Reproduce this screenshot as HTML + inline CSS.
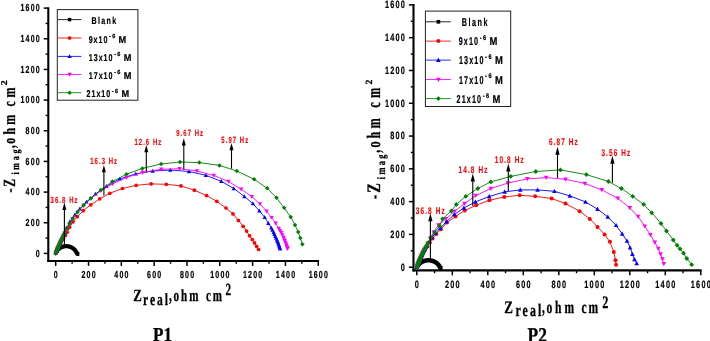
<!DOCTYPE html>
<html><head><meta charset="utf-8"><title>Nyquist plots P1 P2</title>
<style>html,body{margin:0;padding:0;background:#fff}svg{display:block;will-change:transform}</style>
</head><body>
<svg width="710" height="341" viewBox="0 0 710 341" text-rendering="geometricPrecision">
<rect width="710" height="341" fill="#fff"/>
<line x1="48.30" y1="7.30" x2="48.30" y2="262.00" stroke="#000" stroke-width="2.1" stroke-linecap="butt"/>
<line x1="47.30" y1="261.00" x2="319.06" y2="261.00" stroke="#000" stroke-width="2.1" stroke-linecap="butt"/>
<line x1="43.70" y1="253.40" x2="48.30" y2="253.40" stroke="#000" stroke-width="1.5" stroke-linecap="butt"/>
<line x1="55.70" y1="261.00" x2="55.70" y2="265.90" stroke="#000" stroke-width="1.5" stroke-linecap="butt"/>
<line x1="45.60" y1="238.07" x2="48.30" y2="238.07" stroke="#000" stroke-width="1.4" stroke-linecap="butt"/>
<line x1="72.11" y1="261.00" x2="72.11" y2="263.80" stroke="#000" stroke-width="1.4" stroke-linecap="butt"/>
<line x1="43.70" y1="222.74" x2="48.30" y2="222.74" stroke="#000" stroke-width="1.5" stroke-linecap="butt"/>
<line x1="88.52" y1="261.00" x2="88.52" y2="265.90" stroke="#000" stroke-width="1.5" stroke-linecap="butt"/>
<line x1="45.60" y1="207.41" x2="48.30" y2="207.41" stroke="#000" stroke-width="1.4" stroke-linecap="butt"/>
<line x1="104.93" y1="261.00" x2="104.93" y2="263.80" stroke="#000" stroke-width="1.4" stroke-linecap="butt"/>
<line x1="43.70" y1="192.08" x2="48.30" y2="192.08" stroke="#000" stroke-width="1.5" stroke-linecap="butt"/>
<line x1="121.34" y1="261.00" x2="121.34" y2="265.90" stroke="#000" stroke-width="1.5" stroke-linecap="butt"/>
<line x1="45.60" y1="176.75" x2="48.30" y2="176.75" stroke="#000" stroke-width="1.4" stroke-linecap="butt"/>
<line x1="137.75" y1="261.00" x2="137.75" y2="263.80" stroke="#000" stroke-width="1.4" stroke-linecap="butt"/>
<line x1="43.70" y1="161.41" x2="48.30" y2="161.41" stroke="#000" stroke-width="1.5" stroke-linecap="butt"/>
<line x1="154.16" y1="261.00" x2="154.16" y2="265.90" stroke="#000" stroke-width="1.5" stroke-linecap="butt"/>
<line x1="45.60" y1="146.08" x2="48.30" y2="146.08" stroke="#000" stroke-width="1.4" stroke-linecap="butt"/>
<line x1="170.57" y1="261.00" x2="170.57" y2="263.80" stroke="#000" stroke-width="1.4" stroke-linecap="butt"/>
<line x1="43.70" y1="130.75" x2="48.30" y2="130.75" stroke="#000" stroke-width="1.5" stroke-linecap="butt"/>
<line x1="186.98" y1="261.00" x2="186.98" y2="265.90" stroke="#000" stroke-width="1.5" stroke-linecap="butt"/>
<line x1="45.60" y1="115.42" x2="48.30" y2="115.42" stroke="#000" stroke-width="1.4" stroke-linecap="butt"/>
<line x1="203.39" y1="261.00" x2="203.39" y2="263.80" stroke="#000" stroke-width="1.4" stroke-linecap="butt"/>
<line x1="43.70" y1="100.09" x2="48.30" y2="100.09" stroke="#000" stroke-width="1.5" stroke-linecap="butt"/>
<line x1="219.80" y1="261.00" x2="219.80" y2="265.90" stroke="#000" stroke-width="1.5" stroke-linecap="butt"/>
<line x1="45.60" y1="84.76" x2="48.30" y2="84.76" stroke="#000" stroke-width="1.4" stroke-linecap="butt"/>
<line x1="236.21" y1="261.00" x2="236.21" y2="263.80" stroke="#000" stroke-width="1.4" stroke-linecap="butt"/>
<line x1="43.70" y1="69.43" x2="48.30" y2="69.43" stroke="#000" stroke-width="1.5" stroke-linecap="butt"/>
<line x1="252.62" y1="261.00" x2="252.62" y2="265.90" stroke="#000" stroke-width="1.5" stroke-linecap="butt"/>
<line x1="45.60" y1="54.10" x2="48.30" y2="54.10" stroke="#000" stroke-width="1.4" stroke-linecap="butt"/>
<line x1="269.03" y1="261.00" x2="269.03" y2="263.80" stroke="#000" stroke-width="1.4" stroke-linecap="butt"/>
<line x1="43.70" y1="38.77" x2="48.30" y2="38.77" stroke="#000" stroke-width="1.5" stroke-linecap="butt"/>
<line x1="285.44" y1="261.00" x2="285.44" y2="265.90" stroke="#000" stroke-width="1.5" stroke-linecap="butt"/>
<line x1="45.60" y1="23.44" x2="48.30" y2="23.44" stroke="#000" stroke-width="1.4" stroke-linecap="butt"/>
<line x1="301.85" y1="261.00" x2="301.85" y2="263.80" stroke="#000" stroke-width="1.4" stroke-linecap="butt"/>
<line x1="43.70" y1="8.10" x2="48.30" y2="8.10" stroke="#000" stroke-width="1.5" stroke-linecap="butt"/>
<line x1="318.26" y1="261.00" x2="318.26" y2="265.90" stroke="#000" stroke-width="1.5" stroke-linecap="butt"/>
<text transform="translate(40.91,256.62) scale(0.69,1)" font-family="'Liberation Sans', Arial, sans-serif" font-size="10.2" font-weight="bold" fill="#000" stroke="#000" stroke-width="0.22" text-anchor="end" letter-spacing="1.75" >0</text>
<text transform="translate(56.30,277.80) scale(0.69,1)" font-family="'Liberation Sans', Arial, sans-serif" font-size="10.2" font-weight="bold" fill="#000" stroke="#000" stroke-width="0.22" text-anchor="middle" letter-spacing="1.75" >0</text>
<text transform="translate(40.91,225.96) scale(0.69,1)" font-family="'Liberation Sans', Arial, sans-serif" font-size="10.2" font-weight="bold" fill="#000" stroke="#000" stroke-width="0.22" text-anchor="end" letter-spacing="1.75" >200</text>
<text transform="translate(89.12,277.80) scale(0.69,1)" font-family="'Liberation Sans', Arial, sans-serif" font-size="10.2" font-weight="bold" fill="#000" stroke="#000" stroke-width="0.22" text-anchor="middle" letter-spacing="1.75" >200</text>
<text transform="translate(40.91,195.30) scale(0.69,1)" font-family="'Liberation Sans', Arial, sans-serif" font-size="10.2" font-weight="bold" fill="#000" stroke="#000" stroke-width="0.22" text-anchor="end" letter-spacing="1.75" >400</text>
<text transform="translate(121.94,277.80) scale(0.69,1)" font-family="'Liberation Sans', Arial, sans-serif" font-size="10.2" font-weight="bold" fill="#000" stroke="#000" stroke-width="0.22" text-anchor="middle" letter-spacing="1.75" >400</text>
<text transform="translate(40.91,164.64) scale(0.69,1)" font-family="'Liberation Sans', Arial, sans-serif" font-size="10.2" font-weight="bold" fill="#000" stroke="#000" stroke-width="0.22" text-anchor="end" letter-spacing="1.75" >600</text>
<text transform="translate(154.76,277.80) scale(0.69,1)" font-family="'Liberation Sans', Arial, sans-serif" font-size="10.2" font-weight="bold" fill="#000" stroke="#000" stroke-width="0.22" text-anchor="middle" letter-spacing="1.75" >600</text>
<text transform="translate(40.91,133.97) scale(0.69,1)" font-family="'Liberation Sans', Arial, sans-serif" font-size="10.2" font-weight="bold" fill="#000" stroke="#000" stroke-width="0.22" text-anchor="end" letter-spacing="1.75" >800</text>
<text transform="translate(187.58,277.80) scale(0.69,1)" font-family="'Liberation Sans', Arial, sans-serif" font-size="10.2" font-weight="bold" fill="#000" stroke="#000" stroke-width="0.22" text-anchor="middle" letter-spacing="1.75" >800</text>
<text transform="translate(40.91,103.31) scale(0.69,1)" font-family="'Liberation Sans', Arial, sans-serif" font-size="10.2" font-weight="bold" fill="#000" stroke="#000" stroke-width="0.22" text-anchor="end" letter-spacing="1.75" >1000</text>
<text transform="translate(220.40,277.80) scale(0.69,1)" font-family="'Liberation Sans', Arial, sans-serif" font-size="10.2" font-weight="bold" fill="#000" stroke="#000" stroke-width="0.22" text-anchor="middle" letter-spacing="1.75" >1000</text>
<text transform="translate(40.91,72.65) scale(0.69,1)" font-family="'Liberation Sans', Arial, sans-serif" font-size="10.2" font-weight="bold" fill="#000" stroke="#000" stroke-width="0.22" text-anchor="end" letter-spacing="1.75" >1200</text>
<text transform="translate(253.22,277.80) scale(0.69,1)" font-family="'Liberation Sans', Arial, sans-serif" font-size="10.2" font-weight="bold" fill="#000" stroke="#000" stroke-width="0.22" text-anchor="middle" letter-spacing="1.75" >1200</text>
<text transform="translate(40.91,41.99) scale(0.69,1)" font-family="'Liberation Sans', Arial, sans-serif" font-size="10.2" font-weight="bold" fill="#000" stroke="#000" stroke-width="0.22" text-anchor="end" letter-spacing="1.75" >1400</text>
<text transform="translate(286.04,277.80) scale(0.69,1)" font-family="'Liberation Sans', Arial, sans-serif" font-size="10.2" font-weight="bold" fill="#000" stroke="#000" stroke-width="0.22" text-anchor="middle" letter-spacing="1.75" >1400</text>
<text transform="translate(40.91,11.33) scale(0.69,1)" font-family="'Liberation Sans', Arial, sans-serif" font-size="10.2" font-weight="bold" fill="#000" stroke="#000" stroke-width="0.22" text-anchor="end" letter-spacing="1.75" >1600</text>
<text transform="translate(318.86,277.80) scale(0.69,1)" font-family="'Liberation Sans', Arial, sans-serif" font-size="10.2" font-weight="bold" fill="#000" stroke="#000" stroke-width="0.22" text-anchor="middle" letter-spacing="1.75" >1600</text>
<polyline points="55.70,253.40 55.85,252.99 56.02,252.58 56.21,252.18 56.42,251.79 56.64,251.41 56.88,251.04 57.14,250.67 57.41,250.32 57.70,249.98 58.01,249.65 58.33,249.33 58.66,249.02 59.01,248.73 59.36,248.45 59.74,248.19 60.12,247.94 60.51,247.70 60.92,247.48 61.33,247.28 61.75,247.10 62.18,246.93 62.62,246.77 63.06,246.64 63.51,246.52 63.97,246.42 64.43,246.34 64.89,246.28 65.35,246.23 65.82,246.20 66.28,246.19 66.75,246.20 67.22,246.23 67.68,246.28 68.14,246.34 68.60,246.42 69.06,246.52 69.51,246.64 69.95,246.77 70.39,246.93 70.82,247.10 71.24,247.28 71.65,247.48 72.06,247.70 72.45,247.94 72.83,248.19 73.20,248.45 73.56,248.73 73.91,249.02 74.24,249.33 74.56,249.65 74.87,249.98 75.15,250.32 75.43,250.67 75.69,251.04 75.93,251.41 76.15,251.79 76.36,252.18 76.55,252.58 76.72,252.99 76.87,253.40 77.60,253.90 79.40,254.00" fill="none" stroke="#000000" stroke-width="4.20" stroke-linejoin="round" stroke-linecap="butt"/>
<polyline points="55.70,253.40 56.71,251.08 56.82,250.82 56.96,250.50 57.13,250.14 57.29,249.77 57.51,249.30 57.75,248.78 58.01,248.20 58.30,247.58 58.62,246.90 59.01,246.07 59.43,245.19 59.93,244.15 60.49,243.02 61.11,241.78 61.84,240.35 63.60,238.60 65.40,235.40 67.20,232.20 69.60,227.30 73.10,221.80 77.30,216.70 83.30,210.70 90.80,204.80 99.70,198.80 109.80,193.30 122.40,188.50 136.20,185.30 151.10,183.90 166.30,184.30 181.00,185.90 194.40,190.20 206.60,195.60 216.80,201.30 226.00,208.00 233.00,213.90 238.40,220.40 243.10,226.30 246.60,231.10 249.60,235.80 252.30,239.50 254.50,242.90 256.70,246.40 258.60,249.50" fill="none" stroke="#ff0000" stroke-width="0.9" stroke-linejoin="round"/>
<circle cx="55.70" cy="253.40" r="1.85" fill="#ff0000"/>
<circle cx="56.71" cy="251.08" r="1.85" fill="#ff0000"/>
<circle cx="56.82" cy="250.82" r="1.85" fill="#ff0000"/>
<circle cx="56.96" cy="250.50" r="1.85" fill="#ff0000"/>
<circle cx="57.13" cy="250.14" r="1.85" fill="#ff0000"/>
<circle cx="57.29" cy="249.77" r="1.85" fill="#ff0000"/>
<circle cx="57.51" cy="249.30" r="1.85" fill="#ff0000"/>
<circle cx="57.75" cy="248.78" r="1.85" fill="#ff0000"/>
<circle cx="58.01" cy="248.20" r="1.85" fill="#ff0000"/>
<circle cx="58.30" cy="247.58" r="1.85" fill="#ff0000"/>
<circle cx="58.62" cy="246.90" r="1.85" fill="#ff0000"/>
<circle cx="59.01" cy="246.07" r="1.85" fill="#ff0000"/>
<circle cx="59.43" cy="245.19" r="1.85" fill="#ff0000"/>
<circle cx="59.93" cy="244.15" r="1.85" fill="#ff0000"/>
<circle cx="60.49" cy="243.02" r="1.85" fill="#ff0000"/>
<circle cx="61.11" cy="241.78" r="1.85" fill="#ff0000"/>
<circle cx="61.84" cy="240.35" r="1.85" fill="#ff0000"/>
<circle cx="63.60" cy="238.60" r="1.85" fill="#ff0000"/>
<circle cx="65.40" cy="235.40" r="1.85" fill="#ff0000"/>
<circle cx="67.20" cy="232.20" r="1.85" fill="#ff0000"/>
<circle cx="69.60" cy="227.30" r="1.85" fill="#ff0000"/>
<circle cx="73.10" cy="221.80" r="1.85" fill="#ff0000"/>
<circle cx="77.30" cy="216.70" r="1.85" fill="#ff0000"/>
<circle cx="83.30" cy="210.70" r="1.85" fill="#ff0000"/>
<circle cx="90.80" cy="204.80" r="1.85" fill="#ff0000"/>
<circle cx="99.70" cy="198.80" r="1.85" fill="#ff0000"/>
<circle cx="109.80" cy="193.30" r="1.85" fill="#ff0000"/>
<circle cx="122.40" cy="188.50" r="1.85" fill="#ff0000"/>
<circle cx="136.20" cy="185.30" r="1.85" fill="#ff0000"/>
<circle cx="151.10" cy="183.90" r="1.85" fill="#ff0000"/>
<circle cx="166.30" cy="184.30" r="1.85" fill="#ff0000"/>
<circle cx="181.00" cy="185.90" r="1.85" fill="#ff0000"/>
<circle cx="194.40" cy="190.20" r="1.85" fill="#ff0000"/>
<circle cx="206.60" cy="195.60" r="1.85" fill="#ff0000"/>
<circle cx="216.80" cy="201.30" r="1.85" fill="#ff0000"/>
<circle cx="226.00" cy="208.00" r="1.85" fill="#ff0000"/>
<circle cx="233.00" cy="213.90" r="1.85" fill="#ff0000"/>
<circle cx="238.40" cy="220.40" r="1.85" fill="#ff0000"/>
<circle cx="243.10" cy="226.30" r="1.85" fill="#ff0000"/>
<circle cx="246.60" cy="231.10" r="1.85" fill="#ff0000"/>
<circle cx="249.60" cy="235.80" r="1.85" fill="#ff0000"/>
<circle cx="252.30" cy="239.50" r="1.85" fill="#ff0000"/>
<circle cx="254.50" cy="242.90" r="1.85" fill="#ff0000"/>
<circle cx="256.70" cy="246.40" r="1.85" fill="#ff0000"/>
<circle cx="258.60" cy="249.50" r="1.85" fill="#ff0000"/>
<polyline points="55.70,253.40 56.58,251.08 56.68,250.82 56.80,250.50 56.95,250.14 57.09,249.77 57.28,249.30 57.49,248.78 57.72,248.20 57.97,247.58 58.25,246.90 58.60,246.07 58.97,245.19 59.42,244.15 59.91,243.02 60.46,241.78 61.11,240.35 61.85,238.77 62.70,236.99 63.66,235.01 64.78,232.80 66.60,228.00 70.00,221.60 74.90,214.80 79.90,208.80 86.50,201.90 95.50,193.90 106.40,186.30 119.80,178.90 135.80,173.90 152.70,171.00 170.30,170.00 189.00,171.50 205.90,175.30 221.30,181.30 233.80,188.50 244.40,196.50 252.90,203.60 259.30,210.80 264.70,217.30 268.30,223.20 271.30,227.90 272.45,230.10 273.60,232.30 274.45,234.35 275.30,236.40 276.10,238.15 276.90,239.90 277.50,241.40 278.10,242.90 278.65,244.45 279.20,246.00 279.65,247.35 280.10,248.70" fill="none" stroke="#0000ff" stroke-width="0.9" stroke-linejoin="round"/>
<path d="M55.70,251.15 L57.84,255.09 L53.56,255.09Z" fill="#0000ff"/>
<path d="M56.58,248.83 L58.72,252.77 L54.44,252.77Z" fill="#0000ff"/>
<path d="M56.68,248.57 L58.82,252.51 L54.54,252.51Z" fill="#0000ff"/>
<path d="M56.80,248.25 L58.94,252.19 L54.67,252.19Z" fill="#0000ff"/>
<path d="M56.95,247.89 L59.08,251.82 L54.81,251.82Z" fill="#0000ff"/>
<path d="M57.09,247.52 L59.23,251.46 L54.95,251.46Z" fill="#0000ff"/>
<path d="M57.28,247.05 L59.42,250.99 L55.14,250.99Z" fill="#0000ff"/>
<path d="M57.49,246.53 L59.62,250.46 L55.35,250.46Z" fill="#0000ff"/>
<path d="M57.72,245.95 L59.86,249.89 L55.58,249.89Z" fill="#0000ff"/>
<path d="M57.97,245.33 L60.11,249.26 L55.84,249.26Z" fill="#0000ff"/>
<path d="M58.25,244.65 L60.39,248.59 L56.12,248.59Z" fill="#0000ff"/>
<path d="M58.60,243.82 L60.74,247.76 L56.46,247.76Z" fill="#0000ff"/>
<path d="M58.97,242.94 L61.11,246.87 L56.83,246.87Z" fill="#0000ff"/>
<path d="M59.42,241.90 L61.55,245.84 L57.28,245.84Z" fill="#0000ff"/>
<path d="M59.91,240.77 L62.05,244.71 L57.77,244.71Z" fill="#0000ff"/>
<path d="M60.46,239.53 L62.60,243.47 L58.32,243.47Z" fill="#0000ff"/>
<path d="M61.11,238.10 L63.25,242.04 L58.97,242.04Z" fill="#0000ff"/>
<path d="M61.85,236.52 L63.99,240.45 L59.71,240.45Z" fill="#0000ff"/>
<path d="M62.70,234.74 L64.83,238.67 L60.56,238.67Z" fill="#0000ff"/>
<path d="M63.66,232.76 L65.80,236.70 L61.53,236.70Z" fill="#0000ff"/>
<path d="M64.78,230.55 L66.92,234.49 L62.65,234.49Z" fill="#0000ff"/>
<path d="M66.60,225.75 L68.74,229.69 L64.46,229.69Z" fill="#0000ff"/>
<path d="M70.00,219.35 L72.14,223.29 L67.86,223.29Z" fill="#0000ff"/>
<path d="M74.90,212.55 L77.04,216.49 L72.76,216.49Z" fill="#0000ff"/>
<path d="M79.90,206.55 L82.04,210.49 L77.76,210.49Z" fill="#0000ff"/>
<path d="M86.50,199.65 L88.64,203.59 L84.36,203.59Z" fill="#0000ff"/>
<path d="M95.50,191.65 L97.64,195.59 L93.36,195.59Z" fill="#0000ff"/>
<path d="M106.40,184.05 L108.54,187.99 L104.26,187.99Z" fill="#0000ff"/>
<path d="M119.80,176.65 L121.94,180.59 L117.66,180.59Z" fill="#0000ff"/>
<path d="M135.80,171.65 L137.94,175.59 L133.66,175.59Z" fill="#0000ff"/>
<path d="M152.70,168.75 L154.84,172.69 L150.56,172.69Z" fill="#0000ff"/>
<path d="M170.30,167.75 L172.44,171.69 L168.16,171.69Z" fill="#0000ff"/>
<path d="M189.00,169.25 L191.14,173.19 L186.86,173.19Z" fill="#0000ff"/>
<path d="M205.90,173.05 L208.04,176.99 L203.76,176.99Z" fill="#0000ff"/>
<path d="M221.30,179.05 L223.44,182.99 L219.16,182.99Z" fill="#0000ff"/>
<path d="M233.80,186.25 L235.94,190.19 L231.66,190.19Z" fill="#0000ff"/>
<path d="M244.40,194.25 L246.54,198.19 L242.26,198.19Z" fill="#0000ff"/>
<path d="M252.90,201.35 L255.04,205.29 L250.76,205.29Z" fill="#0000ff"/>
<path d="M259.30,208.55 L261.44,212.49 L257.16,212.49Z" fill="#0000ff"/>
<path d="M264.70,215.05 L266.84,218.99 L262.56,218.99Z" fill="#0000ff"/>
<path d="M268.30,220.95 L270.44,224.89 L266.16,224.89Z" fill="#0000ff"/>
<path d="M271.30,225.65 L273.44,229.59 L269.16,229.59Z" fill="#0000ff"/>
<path d="M272.45,227.85 L274.59,231.79 L270.31,231.79Z" fill="#0000ff"/>
<path d="M273.60,230.05 L275.74,233.99 L271.46,233.99Z" fill="#0000ff"/>
<path d="M274.45,232.10 L276.59,236.04 L272.31,236.04Z" fill="#0000ff"/>
<path d="M275.30,234.15 L277.44,238.09 L273.16,238.09Z" fill="#0000ff"/>
<path d="M276.10,235.90 L278.24,239.84 L273.96,239.84Z" fill="#0000ff"/>
<path d="M276.90,237.65 L279.04,241.59 L274.76,241.59Z" fill="#0000ff"/>
<path d="M277.50,239.15 L279.64,243.09 L275.36,243.09Z" fill="#0000ff"/>
<path d="M278.10,240.65 L280.24,244.59 L275.96,244.59Z" fill="#0000ff"/>
<path d="M278.65,242.20 L280.79,246.14 L276.51,246.14Z" fill="#0000ff"/>
<path d="M279.20,243.75 L281.34,247.69 L277.06,247.69Z" fill="#0000ff"/>
<path d="M279.65,245.10 L281.79,249.04 L277.51,249.04Z" fill="#0000ff"/>
<path d="M280.10,246.45 L282.24,250.39 L277.96,250.39Z" fill="#0000ff"/>
<polyline points="55.70,253.40 56.56,251.08 56.66,250.82 56.78,250.50 56.92,250.14 57.06,249.77 57.24,249.30 57.45,248.78 57.67,248.20 57.92,247.58 58.19,246.90 58.53,246.07 58.90,245.19 59.33,244.15 59.82,243.02 60.36,241.78 61.00,240.35 61.72,238.77 62.55,236.99 63.50,235.01 64.60,232.90 66.90,228.50 69.50,223.90 72.70,218.60 77.60,212.10 83.60,205.50 90.90,198.60 100.90,190.70 112.40,184.00 126.60,177.40 142.70,172.40 161.20,169.30 179.60,168.70 197.00,171.00 213.90,175.50 228.50,181.50 241.20,189.30 251.80,196.70 260.00,204.00 266.60,211.30 271.60,217.60 275.70,223.20 278.80,228.40 280.05,230.60 281.30,232.80 282.35,235.00 283.40,237.20 284.10,239.00 284.80,240.80 285.40,242.35 286.00,243.90 286.45,245.25 286.90,246.60 287.20,247.65 287.50,248.70" fill="none" stroke="#ff00ff" stroke-width="0.9" stroke-linejoin="round"/>
<path d="M55.70,255.65 L57.84,251.71 L53.56,251.71Z" fill="#ff00ff"/>
<path d="M56.56,253.33 L58.70,249.39 L54.42,249.39Z" fill="#ff00ff"/>
<path d="M56.66,253.07 L58.79,249.13 L54.52,249.13Z" fill="#ff00ff"/>
<path d="M56.78,252.75 L58.91,248.82 L54.64,248.82Z" fill="#ff00ff"/>
<path d="M56.92,252.39 L59.06,248.45 L54.78,248.45Z" fill="#ff00ff"/>
<path d="M57.06,252.02 L59.20,248.08 L54.92,248.08Z" fill="#ff00ff"/>
<path d="M57.24,251.55 L59.38,247.61 L55.10,247.61Z" fill="#ff00ff"/>
<path d="M57.45,251.03 L59.58,247.09 L55.31,247.09Z" fill="#ff00ff"/>
<path d="M57.67,250.45 L59.81,246.51 L55.54,246.51Z" fill="#ff00ff"/>
<path d="M57.92,249.83 L60.06,245.89 L55.78,245.89Z" fill="#ff00ff"/>
<path d="M58.19,249.15 L60.33,245.21 L56.06,245.21Z" fill="#ff00ff"/>
<path d="M58.53,248.32 L60.67,244.38 L56.40,244.38Z" fill="#ff00ff"/>
<path d="M58.90,247.44 L61.04,243.50 L56.76,243.50Z" fill="#ff00ff"/>
<path d="M59.33,246.40 L61.47,242.47 L57.20,242.47Z" fill="#ff00ff"/>
<path d="M59.82,245.27 L61.96,241.33 L57.68,241.33Z" fill="#ff00ff"/>
<path d="M60.36,244.03 L62.49,240.10 L58.22,240.10Z" fill="#ff00ff"/>
<path d="M61.00,242.60 L63.13,238.66 L58.86,238.66Z" fill="#ff00ff"/>
<path d="M61.72,241.02 L63.85,237.08 L59.58,237.08Z" fill="#ff00ff"/>
<path d="M62.55,239.24 L64.69,235.30 L60.41,235.30Z" fill="#ff00ff"/>
<path d="M63.50,237.26 L65.64,233.33 L61.36,233.33Z" fill="#ff00ff"/>
<path d="M64.60,235.15 L66.74,231.21 L62.46,231.21Z" fill="#ff00ff"/>
<path d="M66.90,230.75 L69.04,226.81 L64.76,226.81Z" fill="#ff00ff"/>
<path d="M69.50,226.15 L71.64,222.21 L67.36,222.21Z" fill="#ff00ff"/>
<path d="M72.70,220.85 L74.84,216.91 L70.56,216.91Z" fill="#ff00ff"/>
<path d="M77.60,214.35 L79.74,210.41 L75.46,210.41Z" fill="#ff00ff"/>
<path d="M83.60,207.75 L85.74,203.81 L81.46,203.81Z" fill="#ff00ff"/>
<path d="M90.90,200.85 L93.04,196.91 L88.76,196.91Z" fill="#ff00ff"/>
<path d="M100.90,192.95 L103.04,189.01 L98.76,189.01Z" fill="#ff00ff"/>
<path d="M112.40,186.25 L114.54,182.31 L110.26,182.31Z" fill="#ff00ff"/>
<path d="M126.60,179.65 L128.74,175.71 L124.46,175.71Z" fill="#ff00ff"/>
<path d="M142.70,174.65 L144.84,170.71 L140.56,170.71Z" fill="#ff00ff"/>
<path d="M161.20,171.55 L163.34,167.61 L159.06,167.61Z" fill="#ff00ff"/>
<path d="M179.60,170.95 L181.74,167.01 L177.46,167.01Z" fill="#ff00ff"/>
<path d="M197.00,173.25 L199.14,169.31 L194.86,169.31Z" fill="#ff00ff"/>
<path d="M213.90,177.75 L216.04,173.81 L211.76,173.81Z" fill="#ff00ff"/>
<path d="M228.50,183.75 L230.64,179.81 L226.36,179.81Z" fill="#ff00ff"/>
<path d="M241.20,191.55 L243.34,187.61 L239.06,187.61Z" fill="#ff00ff"/>
<path d="M251.80,198.95 L253.94,195.01 L249.66,195.01Z" fill="#ff00ff"/>
<path d="M260.00,206.25 L262.14,202.31 L257.86,202.31Z" fill="#ff00ff"/>
<path d="M266.60,213.55 L268.74,209.61 L264.46,209.61Z" fill="#ff00ff"/>
<path d="M271.60,219.85 L273.74,215.91 L269.46,215.91Z" fill="#ff00ff"/>
<path d="M275.70,225.45 L277.84,221.51 L273.56,221.51Z" fill="#ff00ff"/>
<path d="M278.80,230.65 L280.94,226.71 L276.66,226.71Z" fill="#ff00ff"/>
<path d="M280.05,232.85 L282.19,228.91 L277.91,228.91Z" fill="#ff00ff"/>
<path d="M281.30,235.05 L283.44,231.11 L279.16,231.11Z" fill="#ff00ff"/>
<path d="M282.35,237.25 L284.49,233.31 L280.21,233.31Z" fill="#ff00ff"/>
<path d="M283.40,239.45 L285.54,235.51 L281.26,235.51Z" fill="#ff00ff"/>
<path d="M284.10,241.25 L286.24,237.31 L281.96,237.31Z" fill="#ff00ff"/>
<path d="M284.80,243.05 L286.94,239.11 L282.66,239.11Z" fill="#ff00ff"/>
<path d="M285.40,244.60 L287.54,240.66 L283.26,240.66Z" fill="#ff00ff"/>
<path d="M286.00,246.15 L288.14,242.21 L283.86,242.21Z" fill="#ff00ff"/>
<path d="M286.45,247.50 L288.59,243.56 L284.31,243.56Z" fill="#ff00ff"/>
<path d="M286.90,248.85 L289.04,244.91 L284.76,244.91Z" fill="#ff00ff"/>
<path d="M287.20,249.90 L289.34,245.96 L285.06,245.96Z" fill="#ff00ff"/>
<path d="M287.50,250.95 L289.64,247.01 L285.36,247.01Z" fill="#ff00ff"/>
<polyline points="55.70,253.40 56.56,251.08 56.66,250.82 56.78,250.50 56.92,250.14 57.06,249.77 57.24,249.30 57.45,248.78 57.67,248.20 57.92,247.58 58.19,246.90 58.53,246.07 58.90,245.19 59.33,244.15 59.82,243.02 60.36,241.78 61.00,240.35 61.72,238.77 62.55,236.99 63.50,235.01 64.60,232.80 66.90,228.40 69.50,223.70 72.70,218.40 77.60,211.90 83.60,205.20 90.90,198.20 100.90,189.90 112.40,181.50 126.40,174.30 142.30,168.40 161.10,164.00 180.00,162.00 199.30,162.60 219.50,165.40 236.80,171.00 254.20,179.30 267.20,188.30 276.50,197.80 284.10,207.80 290.70,216.90 295.00,224.90 298.20,232.00 300.30,238.10 302.40,244.30" fill="none" stroke="#008000" stroke-width="0.9" stroke-linejoin="round"/>
<path d="M55.70,251.15 L57.95,253.40 L55.70,255.65 L53.45,253.40Z" fill="#008000"/>
<path d="M56.56,248.83 L58.81,251.08 L56.56,253.33 L54.31,251.08Z" fill="#008000"/>
<path d="M56.66,248.57 L58.91,250.82 L56.66,253.07 L54.41,250.82Z" fill="#008000"/>
<path d="M56.78,248.25 L59.03,250.50 L56.78,252.75 L54.53,250.50Z" fill="#008000"/>
<path d="M56.92,247.89 L59.17,250.14 L56.92,252.39 L54.67,250.14Z" fill="#008000"/>
<path d="M57.06,247.52 L59.31,249.77 L57.06,252.02 L54.81,249.77Z" fill="#008000"/>
<path d="M57.24,247.05 L59.49,249.30 L57.24,251.55 L54.99,249.30Z" fill="#008000"/>
<path d="M57.45,246.53 L59.70,248.78 L57.45,251.03 L55.20,248.78Z" fill="#008000"/>
<path d="M57.67,245.95 L59.92,248.20 L57.67,250.45 L55.42,248.20Z" fill="#008000"/>
<path d="M57.92,245.33 L60.17,247.58 L57.92,249.83 L55.67,247.58Z" fill="#008000"/>
<path d="M58.19,244.65 L60.44,246.90 L58.19,249.15 L55.94,246.90Z" fill="#008000"/>
<path d="M58.53,243.82 L60.78,246.07 L58.53,248.32 L56.28,246.07Z" fill="#008000"/>
<path d="M58.90,242.94 L61.15,245.19 L58.90,247.44 L56.65,245.19Z" fill="#008000"/>
<path d="M59.33,241.90 L61.58,244.15 L59.33,246.40 L57.08,244.15Z" fill="#008000"/>
<path d="M59.82,240.77 L62.07,243.02 L59.82,245.27 L57.57,243.02Z" fill="#008000"/>
<path d="M60.36,239.53 L62.61,241.78 L60.36,244.03 L58.11,241.78Z" fill="#008000"/>
<path d="M61.00,238.10 L63.25,240.35 L61.00,242.60 L58.75,240.35Z" fill="#008000"/>
<path d="M61.72,236.52 L63.97,238.77 L61.72,241.02 L59.47,238.77Z" fill="#008000"/>
<path d="M62.55,234.74 L64.80,236.99 L62.55,239.24 L60.30,236.99Z" fill="#008000"/>
<path d="M63.50,232.76 L65.75,235.01 L63.50,237.26 L61.25,235.01Z" fill="#008000"/>
<path d="M64.60,230.55 L66.85,232.80 L64.60,235.05 L62.35,232.80Z" fill="#008000"/>
<path d="M66.90,226.15 L69.15,228.40 L66.90,230.65 L64.65,228.40Z" fill="#008000"/>
<path d="M69.50,221.45 L71.75,223.70 L69.50,225.95 L67.25,223.70Z" fill="#008000"/>
<path d="M72.70,216.15 L74.95,218.40 L72.70,220.65 L70.45,218.40Z" fill="#008000"/>
<path d="M77.60,209.65 L79.85,211.90 L77.60,214.15 L75.35,211.90Z" fill="#008000"/>
<path d="M83.60,202.95 L85.85,205.20 L83.60,207.45 L81.35,205.20Z" fill="#008000"/>
<path d="M90.90,195.95 L93.15,198.20 L90.90,200.45 L88.65,198.20Z" fill="#008000"/>
<path d="M100.90,187.65 L103.15,189.90 L100.90,192.15 L98.65,189.90Z" fill="#008000"/>
<path d="M112.40,179.25 L114.65,181.50 L112.40,183.75 L110.15,181.50Z" fill="#008000"/>
<path d="M126.40,172.05 L128.65,174.30 L126.40,176.55 L124.15,174.30Z" fill="#008000"/>
<path d="M142.30,166.15 L144.55,168.40 L142.30,170.65 L140.05,168.40Z" fill="#008000"/>
<path d="M161.10,161.75 L163.35,164.00 L161.10,166.25 L158.85,164.00Z" fill="#008000"/>
<path d="M180.00,159.75 L182.25,162.00 L180.00,164.25 L177.75,162.00Z" fill="#008000"/>
<path d="M199.30,160.35 L201.55,162.60 L199.30,164.85 L197.05,162.60Z" fill="#008000"/>
<path d="M219.50,163.15 L221.75,165.40 L219.50,167.65 L217.25,165.40Z" fill="#008000"/>
<path d="M236.80,168.75 L239.05,171.00 L236.80,173.25 L234.55,171.00Z" fill="#008000"/>
<path d="M254.20,177.05 L256.45,179.30 L254.20,181.55 L251.95,179.30Z" fill="#008000"/>
<path d="M267.20,186.05 L269.45,188.30 L267.20,190.55 L264.95,188.30Z" fill="#008000"/>
<path d="M276.50,195.55 L278.75,197.80 L276.50,200.05 L274.25,197.80Z" fill="#008000"/>
<path d="M284.10,205.55 L286.35,207.80 L284.10,210.05 L281.85,207.80Z" fill="#008000"/>
<path d="M290.70,214.65 L292.95,216.90 L290.70,219.15 L288.45,216.90Z" fill="#008000"/>
<path d="M295.00,222.65 L297.25,224.90 L295.00,227.15 L292.75,224.90Z" fill="#008000"/>
<path d="M298.20,229.75 L300.45,232.00 L298.20,234.25 L295.95,232.00Z" fill="#008000"/>
<path d="M300.30,235.85 L302.55,238.10 L300.30,240.35 L298.05,238.10Z" fill="#008000"/>
<path d="M302.40,242.05 L304.65,244.30 L302.40,246.55 L300.15,244.30Z" fill="#008000"/>
<line x1="64.40" y1="206.60" x2="64.40" y2="245.50" stroke="#000" stroke-width="1.1" stroke-linecap="butt"/>
<path d="M64.40,202.60 L66.40,209.90 L62.40,209.90Z" fill="#000"/>
<text transform="translate(50.60,202.80) scale(0.66,1)" font-family="'Liberation Sans', Arial, sans-serif" font-size="9.0" font-weight="bold" fill="#ff0000" stroke="#ff0000" stroke-width="0.15" text-anchor="start" letter-spacing="1.62" >36.8 Hz</text>
<line x1="103.90" y1="168.90" x2="103.90" y2="195.50" stroke="#000" stroke-width="1.1" stroke-linecap="butt"/>
<path d="M103.90,164.90 L105.90,172.20 L101.90,172.20Z" fill="#000"/>
<text transform="translate(90.20,164.30) scale(0.66,1)" font-family="'Liberation Sans', Arial, sans-serif" font-size="9.0" font-weight="bold" fill="#ff0000" stroke="#ff0000" stroke-width="0.15" text-anchor="start" letter-spacing="1.62" >16.3 Hz</text>
<line x1="146.30" y1="148.90" x2="146.30" y2="171.90" stroke="#000" stroke-width="1.1" stroke-linecap="butt"/>
<path d="M146.30,144.90 L148.30,152.20 L144.30,152.20Z" fill="#000"/>
<text transform="translate(134.40,145.30) scale(0.66,1)" font-family="'Liberation Sans', Arial, sans-serif" font-size="9.0" font-weight="bold" fill="#ff0000" stroke="#ff0000" stroke-width="0.15" text-anchor="start" letter-spacing="1.62" >12.6 Hz</text>
<line x1="183.80" y1="142.30" x2="183.80" y2="169.40" stroke="#000" stroke-width="1.1" stroke-linecap="butt"/>
<path d="M183.80,138.30 L185.80,145.60 L181.80,145.60Z" fill="#000"/>
<text transform="translate(176.20,136.40) scale(0.66,1)" font-family="'Liberation Sans', Arial, sans-serif" font-size="9.0" font-weight="bold" fill="#ff0000" stroke="#ff0000" stroke-width="0.15" text-anchor="start" letter-spacing="1.62" >9.67 Hz</text>
<line x1="231.50" y1="146.90" x2="231.50" y2="168.60" stroke="#000" stroke-width="1.1" stroke-linecap="butt"/>
<path d="M231.50,142.90 L233.50,150.20 L229.50,150.20Z" fill="#000"/>
<text transform="translate(221.30,143.30) scale(0.66,1)" font-family="'Liberation Sans', Arial, sans-serif" font-size="9.0" font-weight="bold" fill="#ff0000" stroke="#ff0000" stroke-width="0.15" text-anchor="start" letter-spacing="1.62" >5.97 Hz</text>
<rect x="57.30" y="9.60" width="80.60" height="90.60" fill="#fff" stroke="#222" stroke-width="1"/>
<line x1="57.80" y1="19.60" x2="81.40" y2="19.60" stroke="#000000" stroke-width="0.85" stroke-linecap="butt"/>
<rect x="67.90" y="17.90" width="3.40" height="3.40" fill="#000000"/>
<text transform="translate(91.50,24.20) scale(0.72,1)" font-family="'Liberation Sans', Arial, sans-serif" font-size="9.9" font-weight="bold" fill="#000" stroke="#000" stroke-width="0.22" text-anchor="start" letter-spacing="1.85" >Blank</text>
<line x1="57.80" y1="38.00" x2="81.40" y2="38.00" stroke="#ff0000" stroke-width="0.85" stroke-linecap="butt"/>
<circle cx="69.60" cy="38.00" r="1.85" fill="#ff0000"/>
<text transform="translate(88.70,42.60) scale(0.72,1)" font-family="'Liberation Sans', Arial, sans-serif" font-size="9.9" font-weight="bold" fill="#000" stroke="#000" stroke-width="0.22" text-anchor="start" letter-spacing="1.32" >9x10</text>
<text transform="translate(109.01,37.95) scale(0.9359999999999999,1)" font-family="'Liberation Sans', Arial, sans-serif" font-size="5.94" font-weight="bold" fill="#000" stroke="#000" stroke-width="0.22" text-anchor="start" letter-spacing="1.45" >-6</text>
<text transform="translate(118.61,42.60) scale(0.9336542769910491,1)" font-family="'Liberation Sans', Arial, sans-serif" font-size="9.9" font-weight="bold" fill="#000" stroke="#000" stroke-width="0.22" text-anchor="start" letter-spacing="0" >M</text>
<line x1="57.80" y1="56.40" x2="81.40" y2="56.40" stroke="#0000ff" stroke-width="0.85" stroke-linecap="butt"/>
<path d="M69.60,54.15 L71.74,58.09 L67.46,58.09Z" fill="#0000ff"/>
<text transform="translate(88.80,61.00) scale(0.72,1)" font-family="'Liberation Sans', Arial, sans-serif" font-size="9.9" font-weight="bold" fill="#000" stroke="#000" stroke-width="0.22" text-anchor="start" letter-spacing="1.37" >13x10</text>
<text transform="translate(114.16,56.35) scale(0.9359999999999999,1)" font-family="'Liberation Sans', Arial, sans-serif" font-size="5.94" font-weight="bold" fill="#000" stroke="#000" stroke-width="0.22" text-anchor="start" letter-spacing="1.45" >-6</text>
<text transform="translate(123.76,61.00) scale(0.9336542769910491,1)" font-family="'Liberation Sans', Arial, sans-serif" font-size="9.9" font-weight="bold" fill="#000" stroke="#000" stroke-width="0.22" text-anchor="start" letter-spacing="0" >M</text>
<line x1="57.80" y1="74.50" x2="81.40" y2="74.50" stroke="#ff00ff" stroke-width="0.85" stroke-linecap="butt"/>
<path d="M69.60,76.75 L71.74,72.81 L67.46,72.81Z" fill="#ff00ff"/>
<text transform="translate(88.80,79.10) scale(0.72,1)" font-family="'Liberation Sans', Arial, sans-serif" font-size="9.9" font-weight="bold" fill="#000" stroke="#000" stroke-width="0.22" text-anchor="start" letter-spacing="1.37" >17x10</text>
<text transform="translate(114.16,74.45) scale(0.9359999999999999,1)" font-family="'Liberation Sans', Arial, sans-serif" font-size="5.94" font-weight="bold" fill="#000" stroke="#000" stroke-width="0.22" text-anchor="start" letter-spacing="1.45" >-6</text>
<text transform="translate(123.76,79.10) scale(0.9336542769910491,1)" font-family="'Liberation Sans', Arial, sans-serif" font-size="9.9" font-weight="bold" fill="#000" stroke="#000" stroke-width="0.22" text-anchor="start" letter-spacing="0" >M</text>
<line x1="57.80" y1="92.70" x2="81.40" y2="92.70" stroke="#008000" stroke-width="0.85" stroke-linecap="butt"/>
<path d="M69.60,90.45 L71.85,92.70 L69.60,94.95 L67.35,92.70Z" fill="#008000"/>
<text transform="translate(86.50,97.30) scale(0.72,1)" font-family="'Liberation Sans', Arial, sans-serif" font-size="9.9" font-weight="bold" fill="#000" stroke="#000" stroke-width="0.22" text-anchor="start" letter-spacing="1.37" >21x10</text>
<text transform="translate(111.86,92.65) scale(0.9359999999999999,1)" font-family="'Liberation Sans', Arial, sans-serif" font-size="5.94" font-weight="bold" fill="#000" stroke="#000" stroke-width="0.22" text-anchor="start" letter-spacing="1.45" >-6</text>
<text transform="translate(121.46,97.30) scale(0.9336542769910491,1)" font-family="'Liberation Sans', Arial, sans-serif" font-size="9.9" font-weight="bold" fill="#000" stroke="#000" stroke-width="0.22" text-anchor="start" letter-spacing="0" >M</text>
<text transform="translate(14.80,192.60) rotate(-90) scale(0.7064894923486635,1)" font-family="'Liberation Serif', 'Times New Roman', serif" font-size="17" font-weight="bold" fill="#000" stroke="#000" stroke-width="0.3" text-anchor="start" letter-spacing="0" >-</text>
<text transform="translate(14.80,186.80) rotate(-90) scale(0.6878591211607632,1)" font-family="'Liberation Serif', 'Times New Roman', serif" font-size="17" font-weight="bold" fill="#000" stroke="#000" stroke-width="0.3" text-anchor="start" letter-spacing="0" >Z</text>
<text transform="translate(19.00,174.60) rotate(-90) scale(0.72,1)" font-family="'Liberation Serif', 'Times New Roman', serif" font-size="11.0" font-weight="bold" fill="#000" stroke="#000" stroke-width="0.3" text-anchor="start" letter-spacing="3.83" >imag</text>
<text transform="translate(14.80,148.00) rotate(-90) scale(0.5600000000000023,1)" font-family="'Liberation Serif', 'Times New Roman', serif" font-size="20" font-weight="bold" fill="#000" stroke="#000" stroke-width="0.3" text-anchor="start" letter-spacing="0" >,</text>
<text transform="translate(14.80,143.80) rotate(-90) scale(0.7,1)" font-family="'Liberation Serif', 'Times New Roman', serif" font-size="17" font-weight="bold" fill="#000" stroke="#000" stroke-width="0.3" text-anchor="start" letter-spacing="4.66" >ohm</text>
<text transform="translate(14.80,106.50) rotate(-90) scale(0.7,1)" font-family="'Liberation Serif', 'Times New Roman', serif" font-size="17" font-weight="bold" fill="#000" stroke="#000" stroke-width="0.3" text-anchor="start" letter-spacing="5.44" >cm</text>
<text transform="translate(7.00,85.60) rotate(-90) scale(1.155555555555553,1)" font-family="'Liberation Serif', 'Times New Roman', serif" font-size="9.0" font-weight="bold" fill="#000" stroke="#000" stroke-width="0.3" text-anchor="start" letter-spacing="0" >2</text>
<text transform="translate(133.20,301.30) scale(0.7584087746131501,1)" font-family="'Liberation Serif', 'Times New Roman', serif" font-size="17" font-weight="bold" fill="#000" stroke="#000" stroke-width="0.3" text-anchor="start" letter-spacing="0" >Z</text>
<text transform="translate(143.00,305.30) scale(0.68,1)" font-family="'Liberation Serif', 'Times New Roman', serif" font-size="17" font-weight="bold" fill="#000" stroke="#000" stroke-width="0.3" text-anchor="start" letter-spacing="2.92" >real</text>
<text transform="translate(168.90,301.30) scale(0.5599999999999966,1)" font-family="'Liberation Serif', 'Times New Roman', serif" font-size="20" font-weight="bold" fill="#000" stroke="#000" stroke-width="0.3" text-anchor="start" letter-spacing="0" >,</text>
<text transform="translate(173.40,301.30) scale(0.65,1)" font-family="'Liberation Serif', 'Times New Roman', serif" font-size="17" font-weight="bold" fill="#000" stroke="#000" stroke-width="0.3" text-anchor="start" letter-spacing="3.17" >ohm</text>
<text transform="translate(205.90,301.30) scale(0.65,1)" font-family="'Liberation Serif', 'Times New Roman', serif" font-size="17" font-weight="bold" fill="#000" stroke="#000" stroke-width="0.3" text-anchor="start" letter-spacing="3.06" >cm</text>
<text transform="translate(225.40,295.10) scale(0.658823529411764,1)" font-family="'Liberation Serif', 'Times New Roman', serif" font-size="17" font-weight="bold" fill="#000" stroke="#000" stroke-width="0.3" text-anchor="start" letter-spacing="0" >2</text>
<text transform="translate(153.00,340.80) scale(0.87,1)" font-family="'Liberation Serif', 'Times New Roman', serif" font-size="19.7" font-weight="bold" fill="#000" stroke="#000" stroke-width="0.3" text-anchor="start" letter-spacing="0" >P1</text>
<line x1="413.50" y1="4.10" x2="413.50" y2="271.40" stroke="#000" stroke-width="2.1" stroke-linecap="butt"/>
<line x1="412.50" y1="270.40" x2="701.60" y2="270.40" stroke="#000" stroke-width="2.1" stroke-linecap="butt"/>
<line x1="408.90" y1="267.20" x2="413.50" y2="267.20" stroke="#000" stroke-width="1.5" stroke-linecap="butt"/>
<line x1="416.80" y1="270.40" x2="416.80" y2="275.30" stroke="#000" stroke-width="1.5" stroke-linecap="butt"/>
<line x1="410.80" y1="250.81" x2="413.50" y2="250.81" stroke="#000" stroke-width="1.4" stroke-linecap="butt"/>
<line x1="434.55" y1="270.40" x2="434.55" y2="273.20" stroke="#000" stroke-width="1.4" stroke-linecap="butt"/>
<line x1="408.90" y1="234.41" x2="413.50" y2="234.41" stroke="#000" stroke-width="1.5" stroke-linecap="butt"/>
<line x1="452.30" y1="270.40" x2="452.30" y2="275.30" stroke="#000" stroke-width="1.5" stroke-linecap="butt"/>
<line x1="410.80" y1="218.02" x2="413.50" y2="218.02" stroke="#000" stroke-width="1.4" stroke-linecap="butt"/>
<line x1="470.05" y1="270.40" x2="470.05" y2="273.20" stroke="#000" stroke-width="1.4" stroke-linecap="butt"/>
<line x1="408.90" y1="201.62" x2="413.50" y2="201.62" stroke="#000" stroke-width="1.5" stroke-linecap="butt"/>
<line x1="487.80" y1="270.40" x2="487.80" y2="275.30" stroke="#000" stroke-width="1.5" stroke-linecap="butt"/>
<line x1="410.80" y1="185.23" x2="413.50" y2="185.23" stroke="#000" stroke-width="1.4" stroke-linecap="butt"/>
<line x1="505.55" y1="270.40" x2="505.55" y2="273.20" stroke="#000" stroke-width="1.4" stroke-linecap="butt"/>
<line x1="408.90" y1="168.84" x2="413.50" y2="168.84" stroke="#000" stroke-width="1.5" stroke-linecap="butt"/>
<line x1="523.30" y1="270.40" x2="523.30" y2="275.30" stroke="#000" stroke-width="1.5" stroke-linecap="butt"/>
<line x1="410.80" y1="152.44" x2="413.50" y2="152.44" stroke="#000" stroke-width="1.4" stroke-linecap="butt"/>
<line x1="541.05" y1="270.40" x2="541.05" y2="273.20" stroke="#000" stroke-width="1.4" stroke-linecap="butt"/>
<line x1="408.90" y1="136.05" x2="413.50" y2="136.05" stroke="#000" stroke-width="1.5" stroke-linecap="butt"/>
<line x1="558.80" y1="270.40" x2="558.80" y2="275.30" stroke="#000" stroke-width="1.5" stroke-linecap="butt"/>
<line x1="410.80" y1="119.65" x2="413.50" y2="119.65" stroke="#000" stroke-width="1.4" stroke-linecap="butt"/>
<line x1="576.55" y1="270.40" x2="576.55" y2="273.20" stroke="#000" stroke-width="1.4" stroke-linecap="butt"/>
<line x1="408.90" y1="103.26" x2="413.50" y2="103.26" stroke="#000" stroke-width="1.5" stroke-linecap="butt"/>
<line x1="594.30" y1="270.40" x2="594.30" y2="275.30" stroke="#000" stroke-width="1.5" stroke-linecap="butt"/>
<line x1="410.80" y1="86.87" x2="413.50" y2="86.87" stroke="#000" stroke-width="1.4" stroke-linecap="butt"/>
<line x1="612.05" y1="270.40" x2="612.05" y2="273.20" stroke="#000" stroke-width="1.4" stroke-linecap="butt"/>
<line x1="408.90" y1="70.47" x2="413.50" y2="70.47" stroke="#000" stroke-width="1.5" stroke-linecap="butt"/>
<line x1="629.80" y1="270.40" x2="629.80" y2="275.30" stroke="#000" stroke-width="1.5" stroke-linecap="butt"/>
<line x1="410.80" y1="54.08" x2="413.50" y2="54.08" stroke="#000" stroke-width="1.4" stroke-linecap="butt"/>
<line x1="647.55" y1="270.40" x2="647.55" y2="273.20" stroke="#000" stroke-width="1.4" stroke-linecap="butt"/>
<line x1="408.90" y1="37.68" x2="413.50" y2="37.68" stroke="#000" stroke-width="1.5" stroke-linecap="butt"/>
<line x1="665.30" y1="270.40" x2="665.30" y2="275.30" stroke="#000" stroke-width="1.5" stroke-linecap="butt"/>
<line x1="410.80" y1="21.29" x2="413.50" y2="21.29" stroke="#000" stroke-width="1.4" stroke-linecap="butt"/>
<line x1="683.05" y1="270.40" x2="683.05" y2="273.20" stroke="#000" stroke-width="1.4" stroke-linecap="butt"/>
<line x1="408.90" y1="4.90" x2="413.50" y2="4.90" stroke="#000" stroke-width="1.5" stroke-linecap="butt"/>
<line x1="700.80" y1="270.40" x2="700.80" y2="275.30" stroke="#000" stroke-width="1.5" stroke-linecap="butt"/>
<text transform="translate(406.14,270.57) scale(0.69,1)" font-family="'Liberation Sans', Arial, sans-serif" font-size="10.6" font-weight="bold" fill="#000" stroke="#000" stroke-width="0.22" text-anchor="end" letter-spacing="1.8" >0</text>
<text transform="translate(417.42,288.20) scale(0.69,1)" font-family="'Liberation Sans', Arial, sans-serif" font-size="10.6" font-weight="bold" fill="#000" stroke="#000" stroke-width="0.22" text-anchor="middle" letter-spacing="1.8" >0</text>
<text transform="translate(406.14,237.78) scale(0.69,1)" font-family="'Liberation Sans', Arial, sans-serif" font-size="10.6" font-weight="bold" fill="#000" stroke="#000" stroke-width="0.22" text-anchor="end" letter-spacing="1.8" >200</text>
<text transform="translate(452.92,288.20) scale(0.69,1)" font-family="'Liberation Sans', Arial, sans-serif" font-size="10.6" font-weight="bold" fill="#000" stroke="#000" stroke-width="0.22" text-anchor="middle" letter-spacing="1.8" >200</text>
<text transform="translate(406.14,204.99) scale(0.69,1)" font-family="'Liberation Sans', Arial, sans-serif" font-size="10.6" font-weight="bold" fill="#000" stroke="#000" stroke-width="0.22" text-anchor="end" letter-spacing="1.8" >400</text>
<text transform="translate(488.42,288.20) scale(0.69,1)" font-family="'Liberation Sans', Arial, sans-serif" font-size="10.6" font-weight="bold" fill="#000" stroke="#000" stroke-width="0.22" text-anchor="middle" letter-spacing="1.8" >400</text>
<text transform="translate(406.14,172.20) scale(0.69,1)" font-family="'Liberation Sans', Arial, sans-serif" font-size="10.6" font-weight="bold" fill="#000" stroke="#000" stroke-width="0.22" text-anchor="end" letter-spacing="1.8" >600</text>
<text transform="translate(523.92,288.20) scale(0.69,1)" font-family="'Liberation Sans', Arial, sans-serif" font-size="10.6" font-weight="bold" fill="#000" stroke="#000" stroke-width="0.22" text-anchor="middle" letter-spacing="1.8" >600</text>
<text transform="translate(406.14,139.41) scale(0.69,1)" font-family="'Liberation Sans', Arial, sans-serif" font-size="10.6" font-weight="bold" fill="#000" stroke="#000" stroke-width="0.22" text-anchor="end" letter-spacing="1.8" >800</text>
<text transform="translate(559.42,288.20) scale(0.69,1)" font-family="'Liberation Sans', Arial, sans-serif" font-size="10.6" font-weight="bold" fill="#000" stroke="#000" stroke-width="0.22" text-anchor="middle" letter-spacing="1.8" >800</text>
<text transform="translate(406.14,106.63) scale(0.69,1)" font-family="'Liberation Sans', Arial, sans-serif" font-size="10.6" font-weight="bold" fill="#000" stroke="#000" stroke-width="0.22" text-anchor="end" letter-spacing="1.8" >1000</text>
<text transform="translate(594.92,288.20) scale(0.69,1)" font-family="'Liberation Sans', Arial, sans-serif" font-size="10.6" font-weight="bold" fill="#000" stroke="#000" stroke-width="0.22" text-anchor="middle" letter-spacing="1.8" >1000</text>
<text transform="translate(406.14,73.84) scale(0.69,1)" font-family="'Liberation Sans', Arial, sans-serif" font-size="10.6" font-weight="bold" fill="#000" stroke="#000" stroke-width="0.22" text-anchor="end" letter-spacing="1.8" >1200</text>
<text transform="translate(630.42,288.20) scale(0.69,1)" font-family="'Liberation Sans', Arial, sans-serif" font-size="10.6" font-weight="bold" fill="#000" stroke="#000" stroke-width="0.22" text-anchor="middle" letter-spacing="1.8" >1200</text>
<text transform="translate(406.14,41.05) scale(0.69,1)" font-family="'Liberation Sans', Arial, sans-serif" font-size="10.6" font-weight="bold" fill="#000" stroke="#000" stroke-width="0.22" text-anchor="end" letter-spacing="1.8" >1400</text>
<text transform="translate(665.92,288.20) scale(0.69,1)" font-family="'Liberation Sans', Arial, sans-serif" font-size="10.6" font-weight="bold" fill="#000" stroke="#000" stroke-width="0.22" text-anchor="middle" letter-spacing="1.8" >1400</text>
<text transform="translate(406.14,8.26) scale(0.69,1)" font-family="'Liberation Sans', Arial, sans-serif" font-size="10.6" font-weight="bold" fill="#000" stroke="#000" stroke-width="0.22" text-anchor="end" letter-spacing="1.8" >1600</text>
<text transform="translate(701.42,288.20) scale(0.69,1)" font-family="'Liberation Sans', Arial, sans-serif" font-size="10.6" font-weight="bold" fill="#000" stroke="#000" stroke-width="0.22" text-anchor="middle" letter-spacing="1.8" >1600</text>
<polyline points="416.80,267.40 417.00,266.98 417.22,266.58 417.45,266.17 417.70,265.78 417.97,265.40 418.25,265.03 418.55,264.67 418.87,264.32 419.20,263.98 419.54,263.65 419.90,263.34 420.27,263.03 420.65,262.75 421.04,262.47 421.45,262.21 421.86,261.97 422.29,261.74 422.73,261.53 423.17,261.33 423.62,261.15 424.08,260.98 424.55,260.83 425.02,260.70 425.50,260.59 425.98,260.49 426.46,260.41 426.95,260.35 427.44,260.30 427.93,260.28 428.43,260.27 428.92,260.28 429.41,260.30 429.90,260.35 430.39,260.41 430.88,260.49 431.36,260.59 431.83,260.70 432.31,260.83 432.77,260.98 433.23,261.15 433.68,261.33 434.13,261.53 434.56,261.74 434.99,261.97 435.40,262.21 435.81,262.47 436.20,262.75 436.59,263.03 436.96,263.34 437.31,263.65 437.66,263.98 437.98,264.32 438.30,264.67 438.60,265.03 438.88,265.40 439.15,265.78 439.40,266.17 439.63,266.58 439.85,266.98 440.05,267.40 441.00,268.20 442.60,268.30" fill="none" stroke="#000000" stroke-width="4.52" stroke-linejoin="round" stroke-linecap="butt"/>
<polyline points="416.80,267.40 417.80,264.84 417.93,264.52 418.06,264.20 418.22,263.82 418.37,263.44 418.56,263.00 418.77,262.49 419.01,261.92 419.28,261.29 419.59,260.60 419.95,259.78 420.35,258.91 420.78,257.97 421.27,256.92 421.87,255.68 422.50,254.39 423.25,252.92 424.11,251.28 425.09,249.46 427.50,246.60 429.80,242.60 432.60,238.60 436.30,234.00 440.90,229.30 446.90,222.60 455.50,216.50 464.80,210.50 476.10,205.30 489.40,200.30 504.30,196.90 519.70,195.30 535.20,196.30 551.60,198.50 565.50,203.50 579.60,211.20 589.80,218.90 597.50,226.90 604.60,234.40 609.90,241.80 613.80,252.00 615.50,260.30 616.10,264.70" fill="none" stroke="#ff0000" stroke-width="0.9" stroke-linejoin="round"/>
<circle cx="416.80" cy="267.40" r="1.99" fill="#ff0000"/>
<circle cx="417.80" cy="264.84" r="1.99" fill="#ff0000"/>
<circle cx="417.93" cy="264.52" r="1.99" fill="#ff0000"/>
<circle cx="418.06" cy="264.20" r="1.99" fill="#ff0000"/>
<circle cx="418.22" cy="263.82" r="1.99" fill="#ff0000"/>
<circle cx="418.37" cy="263.44" r="1.99" fill="#ff0000"/>
<circle cx="418.56" cy="263.00" r="1.99" fill="#ff0000"/>
<circle cx="418.77" cy="262.49" r="1.99" fill="#ff0000"/>
<circle cx="419.01" cy="261.92" r="1.99" fill="#ff0000"/>
<circle cx="419.28" cy="261.29" r="1.99" fill="#ff0000"/>
<circle cx="419.59" cy="260.60" r="1.99" fill="#ff0000"/>
<circle cx="419.95" cy="259.78" r="1.99" fill="#ff0000"/>
<circle cx="420.35" cy="258.91" r="1.99" fill="#ff0000"/>
<circle cx="420.78" cy="257.97" r="1.99" fill="#ff0000"/>
<circle cx="421.27" cy="256.92" r="1.99" fill="#ff0000"/>
<circle cx="421.87" cy="255.68" r="1.99" fill="#ff0000"/>
<circle cx="422.50" cy="254.39" r="1.99" fill="#ff0000"/>
<circle cx="423.25" cy="252.92" r="1.99" fill="#ff0000"/>
<circle cx="424.11" cy="251.28" r="1.99" fill="#ff0000"/>
<circle cx="425.09" cy="249.46" r="1.99" fill="#ff0000"/>
<circle cx="427.50" cy="246.60" r="1.99" fill="#ff0000"/>
<circle cx="429.80" cy="242.60" r="1.99" fill="#ff0000"/>
<circle cx="432.60" cy="238.60" r="1.99" fill="#ff0000"/>
<circle cx="436.30" cy="234.00" r="1.99" fill="#ff0000"/>
<circle cx="440.90" cy="229.30" r="1.99" fill="#ff0000"/>
<circle cx="446.90" cy="222.60" r="1.99" fill="#ff0000"/>
<circle cx="455.50" cy="216.50" r="1.99" fill="#ff0000"/>
<circle cx="464.80" cy="210.50" r="1.99" fill="#ff0000"/>
<circle cx="476.10" cy="205.30" r="1.99" fill="#ff0000"/>
<circle cx="489.40" cy="200.30" r="1.99" fill="#ff0000"/>
<circle cx="504.30" cy="196.90" r="1.99" fill="#ff0000"/>
<circle cx="519.70" cy="195.30" r="1.99" fill="#ff0000"/>
<circle cx="535.20" cy="196.30" r="1.99" fill="#ff0000"/>
<circle cx="551.60" cy="198.50" r="1.99" fill="#ff0000"/>
<circle cx="565.50" cy="203.50" r="1.99" fill="#ff0000"/>
<circle cx="579.60" cy="211.20" r="1.99" fill="#ff0000"/>
<circle cx="589.80" cy="218.90" r="1.99" fill="#ff0000"/>
<circle cx="597.50" cy="226.90" r="1.99" fill="#ff0000"/>
<circle cx="604.60" cy="234.40" r="1.99" fill="#ff0000"/>
<circle cx="609.90" cy="241.80" r="1.99" fill="#ff0000"/>
<circle cx="613.80" cy="252.00" r="1.99" fill="#ff0000"/>
<circle cx="615.50" cy="260.30" r="1.99" fill="#ff0000"/>
<circle cx="616.10" cy="264.70" r="1.99" fill="#ff0000"/>
<polyline points="416.80,267.40 417.74,264.84 417.86,264.52 417.98,264.20 418.12,263.82 418.27,263.44 418.45,263.00 418.65,262.49 418.87,261.92 419.13,261.29 419.41,260.60 419.76,259.78 420.13,258.91 420.54,257.97 421.00,256.92 421.57,255.68 422.17,254.39 422.88,252.92 423.70,251.28 424.63,249.46 425.72,247.42 426.80,246.00 429.20,241.60 432.00,237.40 435.60,233.20 440.20,228.20 446.50,221.60 454.30,214.50 463.90,208.00 475.40,201.90 489.20,196.50 504.70,191.90 520.30,189.90 537.60,189.90 554.40,191.30 569.90,195.90 585.50,201.90 597.50,209.10 607.80,217.00 616.10,225.30 622.20,233.90 627.00,240.90 630.10,247.60 632.40,254.10 634.50,259.40 636.70,263.40" fill="none" stroke="#0000ff" stroke-width="0.9" stroke-linejoin="round"/>
<path d="M416.80,264.98 L419.10,269.22 L414.50,269.22Z" fill="#0000ff"/>
<path d="M417.74,262.42 L420.04,266.66 L415.43,266.66Z" fill="#0000ff"/>
<path d="M417.86,262.10 L420.16,266.34 L415.55,266.34Z" fill="#0000ff"/>
<path d="M417.98,261.78 L420.28,266.02 L415.68,266.02Z" fill="#0000ff"/>
<path d="M418.12,261.40 L420.43,265.64 L415.82,265.64Z" fill="#0000ff"/>
<path d="M418.27,261.02 L420.57,265.26 L415.97,265.26Z" fill="#0000ff"/>
<path d="M418.45,260.57 L420.75,264.81 L416.14,264.81Z" fill="#0000ff"/>
<path d="M418.65,260.07 L420.95,264.31 L416.34,264.31Z" fill="#0000ff"/>
<path d="M418.87,259.50 L421.18,263.74 L416.57,263.74Z" fill="#0000ff"/>
<path d="M419.13,258.87 L421.43,263.11 L416.83,263.11Z" fill="#0000ff"/>
<path d="M419.41,258.18 L421.72,262.42 L417.11,262.42Z" fill="#0000ff"/>
<path d="M419.76,257.36 L422.06,261.60 L417.45,261.60Z" fill="#0000ff"/>
<path d="M420.13,256.49 L422.43,260.73 L417.83,260.73Z" fill="#0000ff"/>
<path d="M420.54,255.55 L422.84,259.79 L418.23,259.79Z" fill="#0000ff"/>
<path d="M421.00,254.50 L423.31,258.74 L418.70,258.74Z" fill="#0000ff"/>
<path d="M421.57,253.26 L423.87,257.50 L419.27,257.50Z" fill="#0000ff"/>
<path d="M422.17,251.97 L424.48,256.21 L419.87,256.21Z" fill="#0000ff"/>
<path d="M422.88,250.50 L425.18,254.74 L420.58,254.74Z" fill="#0000ff"/>
<path d="M423.70,248.85 L426.00,253.09 L421.40,253.09Z" fill="#0000ff"/>
<path d="M424.63,247.04 L426.93,251.28 L422.33,251.28Z" fill="#0000ff"/>
<path d="M425.72,245.00 L428.03,249.24 L423.42,249.24Z" fill="#0000ff"/>
<path d="M426.80,243.58 L429.10,247.82 L424.50,247.82Z" fill="#0000ff"/>
<path d="M429.20,239.18 L431.50,243.42 L426.90,243.42Z" fill="#0000ff"/>
<path d="M432.00,234.98 L434.30,239.22 L429.70,239.22Z" fill="#0000ff"/>
<path d="M435.60,230.78 L437.90,235.02 L433.30,235.02Z" fill="#0000ff"/>
<path d="M440.20,225.78 L442.50,230.02 L437.90,230.02Z" fill="#0000ff"/>
<path d="M446.50,219.18 L448.80,223.42 L444.20,223.42Z" fill="#0000ff"/>
<path d="M454.30,212.08 L456.60,216.32 L452.00,216.32Z" fill="#0000ff"/>
<path d="M463.90,205.58 L466.20,209.82 L461.60,209.82Z" fill="#0000ff"/>
<path d="M475.40,199.48 L477.70,203.72 L473.10,203.72Z" fill="#0000ff"/>
<path d="M489.20,194.08 L491.50,198.32 L486.90,198.32Z" fill="#0000ff"/>
<path d="M504.70,189.48 L507.00,193.72 L502.40,193.72Z" fill="#0000ff"/>
<path d="M520.30,187.48 L522.60,191.72 L518.00,191.72Z" fill="#0000ff"/>
<path d="M537.60,187.48 L539.90,191.72 L535.30,191.72Z" fill="#0000ff"/>
<path d="M554.40,188.88 L556.70,193.12 L552.10,193.12Z" fill="#0000ff"/>
<path d="M569.90,193.48 L572.20,197.72 L567.60,197.72Z" fill="#0000ff"/>
<path d="M585.50,199.48 L587.80,203.72 L583.20,203.72Z" fill="#0000ff"/>
<path d="M597.50,206.68 L599.80,210.92 L595.20,210.92Z" fill="#0000ff"/>
<path d="M607.80,214.58 L610.10,218.82 L605.50,218.82Z" fill="#0000ff"/>
<path d="M616.10,222.88 L618.40,227.12 L613.80,227.12Z" fill="#0000ff"/>
<path d="M622.20,231.48 L624.50,235.72 L619.90,235.72Z" fill="#0000ff"/>
<path d="M627.00,238.48 L629.30,242.72 L624.70,242.72Z" fill="#0000ff"/>
<path d="M630.10,245.18 L632.40,249.42 L627.80,249.42Z" fill="#0000ff"/>
<path d="M632.40,251.68 L634.70,255.92 L630.10,255.92Z" fill="#0000ff"/>
<path d="M634.50,256.98 L636.80,261.22 L632.20,261.22Z" fill="#0000ff"/>
<path d="M636.70,260.98 L639.00,265.22 L634.40,265.22Z" fill="#0000ff"/>
<polyline points="416.80,267.40 417.66,264.84 417.77,264.52 417.88,264.20 418.02,263.82 418.15,263.44 418.31,263.00 418.50,262.49 418.71,261.92 418.94,261.29 419.21,260.60 419.53,259.78 419.87,258.91 420.25,257.97 420.69,256.92 421.21,255.68 421.78,254.39 422.44,252.92 423.21,251.28 424.09,249.46 425.60,247.50 427.80,243.20 430.40,238.20 433.80,232.00 438.50,225.00 445.90,218.90 454.70,211.20 464.60,203.60 475.80,195.60 490.80,188.50 508.00,183.00 527.30,178.90 546.10,177.60 565.50,179.30 584.90,183.50 601.80,189.90 617.80,198.30 629.80,207.90 638.10,216.60 644.80,226.20 650.40,234.90 654.80,242.30 658.30,248.50 660.60,254.10 662.40,259.00 663.80,263.80" fill="none" stroke="#ff00ff" stroke-width="0.9" stroke-linejoin="round"/>
<path d="M416.80,269.82 L419.10,265.58 L414.50,265.58Z" fill="#ff00ff"/>
<path d="M417.66,267.26 L419.96,263.02 L415.36,263.02Z" fill="#ff00ff"/>
<path d="M417.77,266.94 L420.07,262.70 L415.47,262.70Z" fill="#ff00ff"/>
<path d="M417.88,266.63 L420.18,262.39 L415.58,262.39Z" fill="#ff00ff"/>
<path d="M418.02,266.24 L420.32,262.00 L415.71,262.00Z" fill="#ff00ff"/>
<path d="M418.15,265.86 L420.45,261.62 L415.85,261.62Z" fill="#ff00ff"/>
<path d="M418.31,265.42 L420.61,261.18 L416.01,261.18Z" fill="#ff00ff"/>
<path d="M418.50,264.91 L420.80,260.67 L416.20,260.67Z" fill="#ff00ff"/>
<path d="M418.71,264.35 L421.01,260.10 L416.41,260.10Z" fill="#ff00ff"/>
<path d="M418.94,263.71 L421.25,259.47 L416.64,259.47Z" fill="#ff00ff"/>
<path d="M419.21,263.02 L421.51,258.78 L416.91,258.78Z" fill="#ff00ff"/>
<path d="M419.53,262.21 L421.83,257.97 L417.22,257.97Z" fill="#ff00ff"/>
<path d="M419.87,261.33 L422.17,257.09 L417.57,257.09Z" fill="#ff00ff"/>
<path d="M420.25,260.40 L422.55,256.16 L417.95,256.16Z" fill="#ff00ff"/>
<path d="M420.69,259.34 L422.99,255.10 L418.39,255.10Z" fill="#ff00ff"/>
<path d="M421.21,258.11 L423.52,253.86 L418.91,253.86Z" fill="#ff00ff"/>
<path d="M421.78,256.81 L424.08,252.57 L419.48,252.57Z" fill="#ff00ff"/>
<path d="M422.44,255.34 L424.75,251.10 L420.14,251.10Z" fill="#ff00ff"/>
<path d="M423.21,253.70 L425.51,249.46 L420.91,249.46Z" fill="#ff00ff"/>
<path d="M424.09,251.89 L426.39,247.64 L421.79,247.64Z" fill="#ff00ff"/>
<path d="M425.60,249.92 L427.90,245.68 L423.30,245.68Z" fill="#ff00ff"/>
<path d="M427.80,245.62 L430.10,241.38 L425.50,241.38Z" fill="#ff00ff"/>
<path d="M430.40,240.62 L432.70,236.38 L428.10,236.38Z" fill="#ff00ff"/>
<path d="M433.80,234.42 L436.10,230.18 L431.50,230.18Z" fill="#ff00ff"/>
<path d="M438.50,227.42 L440.80,223.18 L436.20,223.18Z" fill="#ff00ff"/>
<path d="M445.90,221.32 L448.20,217.08 L443.60,217.08Z" fill="#ff00ff"/>
<path d="M454.70,213.62 L457.00,209.38 L452.40,209.38Z" fill="#ff00ff"/>
<path d="M464.60,206.02 L466.90,201.78 L462.30,201.78Z" fill="#ff00ff"/>
<path d="M475.80,198.02 L478.10,193.78 L473.50,193.78Z" fill="#ff00ff"/>
<path d="M490.80,190.92 L493.10,186.68 L488.50,186.68Z" fill="#ff00ff"/>
<path d="M508.00,185.42 L510.30,181.18 L505.70,181.18Z" fill="#ff00ff"/>
<path d="M527.30,181.32 L529.60,177.08 L525.00,177.08Z" fill="#ff00ff"/>
<path d="M546.10,180.02 L548.40,175.78 L543.80,175.78Z" fill="#ff00ff"/>
<path d="M565.50,181.72 L567.80,177.48 L563.20,177.48Z" fill="#ff00ff"/>
<path d="M584.90,185.92 L587.20,181.68 L582.60,181.68Z" fill="#ff00ff"/>
<path d="M601.80,192.32 L604.10,188.08 L599.50,188.08Z" fill="#ff00ff"/>
<path d="M617.80,200.72 L620.10,196.48 L615.50,196.48Z" fill="#ff00ff"/>
<path d="M629.80,210.32 L632.10,206.08 L627.50,206.08Z" fill="#ff00ff"/>
<path d="M638.10,219.02 L640.40,214.78 L635.80,214.78Z" fill="#ff00ff"/>
<path d="M644.80,228.62 L647.10,224.38 L642.50,224.38Z" fill="#ff00ff"/>
<path d="M650.40,237.32 L652.70,233.08 L648.10,233.08Z" fill="#ff00ff"/>
<path d="M654.80,244.72 L657.10,240.48 L652.50,240.48Z" fill="#ff00ff"/>
<path d="M658.30,250.92 L660.60,246.68 L656.00,246.68Z" fill="#ff00ff"/>
<path d="M660.60,256.52 L662.90,252.28 L658.30,252.28Z" fill="#ff00ff"/>
<path d="M662.40,261.42 L664.70,257.18 L660.10,257.18Z" fill="#ff00ff"/>
<path d="M663.80,266.22 L666.10,261.98 L661.50,261.98Z" fill="#ff00ff"/>
<polyline points="416.80,267.40 417.70,264.84 417.81,264.52 417.93,264.20 418.07,263.82 418.21,263.44 418.38,263.00 418.57,262.49 418.79,261.92 419.04,261.29 419.31,260.60 419.64,259.78 420.00,258.91 420.40,257.97 420.85,256.92 421.40,255.68 421.98,254.39 422.67,252.92 423.46,251.28 424.37,249.46 425.43,247.42 426.63,245.22 428.00,242.80 430.60,237.80 434.70,232.40 439.60,226.00 442.60,218.80 451.30,211.00 456.30,204.50 465.80,196.30 477.80,188.50 490.80,181.90 510.70,176.40 535.80,171.50 560.40,169.90 586.30,174.60 608.40,181.50 621.40,188.50 632.70,196.30 643.70,204.40 651.70,212.80 661.00,223.50 666.50,231.00 673.30,240.00 677.10,245.30 680.00,248.80 683.50,253.20 686.80,258.50 691.70,264.70" fill="none" stroke="#008000" stroke-width="0.9" stroke-linejoin="round"/>
<path d="M416.80,264.98 L419.22,267.40 L416.80,269.82 L414.38,267.40Z" fill="#008000"/>
<path d="M417.70,262.42 L420.12,264.84 L417.70,267.26 L415.28,264.84Z" fill="#008000"/>
<path d="M417.81,262.10 L420.24,264.52 L417.81,266.94 L415.39,264.52Z" fill="#008000"/>
<path d="M417.93,261.78 L420.35,264.20 L417.93,266.63 L415.51,264.20Z" fill="#008000"/>
<path d="M418.07,261.40 L420.50,263.82 L418.07,266.24 L415.65,263.82Z" fill="#008000"/>
<path d="M418.21,261.02 L420.64,263.44 L418.21,265.86 L415.79,263.44Z" fill="#008000"/>
<path d="M418.38,260.57 L420.80,263.00 L418.38,265.42 L415.96,263.00Z" fill="#008000"/>
<path d="M418.57,260.07 L421.00,262.49 L418.57,264.91 L416.15,262.49Z" fill="#008000"/>
<path d="M418.79,259.50 L421.22,261.92 L418.79,264.35 L416.37,261.92Z" fill="#008000"/>
<path d="M419.04,258.87 L421.46,261.29 L419.04,263.71 L416.62,261.29Z" fill="#008000"/>
<path d="M419.31,258.18 L421.74,260.60 L419.31,263.02 L416.89,260.60Z" fill="#008000"/>
<path d="M419.64,257.36 L422.07,259.78 L419.64,262.21 L417.22,259.78Z" fill="#008000"/>
<path d="M420.00,256.49 L422.43,258.91 L420.00,261.33 L417.58,258.91Z" fill="#008000"/>
<path d="M420.40,255.55 L422.82,257.97 L420.40,260.40 L417.97,257.97Z" fill="#008000"/>
<path d="M420.85,254.50 L423.27,256.92 L420.85,259.34 L418.43,256.92Z" fill="#008000"/>
<path d="M421.40,253.26 L423.82,255.68 L421.40,258.11 L418.97,255.68Z" fill="#008000"/>
<path d="M421.98,251.97 L424.41,254.39 L421.98,256.81 L419.56,254.39Z" fill="#008000"/>
<path d="M422.67,250.50 L425.09,252.92 L422.67,255.34 L420.24,252.92Z" fill="#008000"/>
<path d="M423.46,248.85 L425.88,251.28 L423.46,253.70 L421.04,251.28Z" fill="#008000"/>
<path d="M424.37,247.04 L426.79,249.46 L424.37,251.89 L421.94,249.46Z" fill="#008000"/>
<path d="M425.43,245.00 L427.85,247.42 L425.43,249.84 L423.01,247.42Z" fill="#008000"/>
<path d="M426.63,242.80 L429.05,245.22 L426.63,247.64 L424.20,245.22Z" fill="#008000"/>
<path d="M428.00,240.38 L430.42,242.80 L428.00,245.22 L425.58,242.80Z" fill="#008000"/>
<path d="M430.60,235.38 L433.02,237.80 L430.60,240.22 L428.18,237.80Z" fill="#008000"/>
<path d="M434.70,229.98 L437.12,232.40 L434.70,234.82 L432.28,232.40Z" fill="#008000"/>
<path d="M439.60,223.58 L442.02,226.00 L439.60,228.42 L437.18,226.00Z" fill="#008000"/>
<path d="M442.60,216.38 L445.02,218.80 L442.60,221.22 L440.18,218.80Z" fill="#008000"/>
<path d="M451.30,208.58 L453.72,211.00 L451.30,213.42 L448.88,211.00Z" fill="#008000"/>
<path d="M456.30,202.08 L458.72,204.50 L456.30,206.92 L453.88,204.50Z" fill="#008000"/>
<path d="M465.80,193.88 L468.22,196.30 L465.80,198.72 L463.38,196.30Z" fill="#008000"/>
<path d="M477.80,186.08 L480.22,188.50 L477.80,190.92 L475.38,188.50Z" fill="#008000"/>
<path d="M490.80,179.48 L493.22,181.90 L490.80,184.32 L488.38,181.90Z" fill="#008000"/>
<path d="M510.70,173.98 L513.12,176.40 L510.70,178.82 L508.28,176.40Z" fill="#008000"/>
<path d="M535.80,169.08 L538.22,171.50 L535.80,173.92 L533.38,171.50Z" fill="#008000"/>
<path d="M560.40,167.48 L562.82,169.90 L560.40,172.32 L557.98,169.90Z" fill="#008000"/>
<path d="M586.30,172.18 L588.72,174.60 L586.30,177.02 L583.88,174.60Z" fill="#008000"/>
<path d="M608.40,179.08 L610.82,181.50 L608.40,183.92 L605.98,181.50Z" fill="#008000"/>
<path d="M621.40,186.08 L623.82,188.50 L621.40,190.92 L618.98,188.50Z" fill="#008000"/>
<path d="M632.70,193.88 L635.12,196.30 L632.70,198.72 L630.28,196.30Z" fill="#008000"/>
<path d="M643.70,201.98 L646.12,204.40 L643.70,206.82 L641.28,204.40Z" fill="#008000"/>
<path d="M651.70,210.38 L654.12,212.80 L651.70,215.22 L649.28,212.80Z" fill="#008000"/>
<path d="M661.00,221.08 L663.42,223.50 L661.00,225.92 L658.58,223.50Z" fill="#008000"/>
<path d="M666.50,228.58 L668.92,231.00 L666.50,233.42 L664.08,231.00Z" fill="#008000"/>
<path d="M673.30,237.58 L675.72,240.00 L673.30,242.42 L670.88,240.00Z" fill="#008000"/>
<path d="M677.10,242.88 L679.52,245.30 L677.10,247.72 L674.68,245.30Z" fill="#008000"/>
<path d="M680.00,246.38 L682.42,248.80 L680.00,251.22 L677.58,248.80Z" fill="#008000"/>
<path d="M683.50,250.78 L685.92,253.20 L683.50,255.62 L681.08,253.20Z" fill="#008000"/>
<path d="M686.80,256.08 L689.22,258.50 L686.80,260.92 L684.38,258.50Z" fill="#008000"/>
<path d="M691.70,262.28 L694.12,264.70 L691.70,267.12 L689.28,264.70Z" fill="#008000"/>
<line x1="430.40" y1="217.50" x2="430.40" y2="258.50" stroke="#000" stroke-width="1.1" stroke-linecap="butt"/>
<path d="M430.40,213.50 L432.55,221.36 L428.25,221.36Z" fill="#000"/>
<text transform="translate(415.80,213.80) scale(0.66,1)" font-family="'Liberation Sans', Arial, sans-serif" font-size="9.693" font-weight="bold" fill="#ff0000" stroke="#ff0000" stroke-width="0.15" text-anchor="start" letter-spacing="1.73" >36.8 Hz</text>
<line x1="472.80" y1="177.60" x2="472.80" y2="206.00" stroke="#000" stroke-width="1.1" stroke-linecap="butt"/>
<path d="M472.80,173.60 L474.95,181.46 L470.65,181.46Z" fill="#000"/>
<text transform="translate(458.50,172.90) scale(0.66,1)" font-family="'Liberation Sans', Arial, sans-serif" font-size="9.693" font-weight="bold" fill="#ff0000" stroke="#ff0000" stroke-width="0.15" text-anchor="start" letter-spacing="1.73" >14.8 Hz</text>
<line x1="508.30" y1="167.60" x2="508.30" y2="191.00" stroke="#000" stroke-width="1.1" stroke-linecap="butt"/>
<path d="M508.30,163.60 L510.45,171.46 L506.15,171.46Z" fill="#000"/>
<text transform="translate(494.80,162.90) scale(0.66,1)" font-family="'Liberation Sans', Arial, sans-serif" font-size="9.693" font-weight="bold" fill="#ff0000" stroke="#ff0000" stroke-width="0.15" text-anchor="start" letter-spacing="1.73" >10.8 Hz</text>
<line x1="557.50" y1="150.80" x2="557.50" y2="178.00" stroke="#000" stroke-width="1.1" stroke-linecap="butt"/>
<path d="M557.50,146.80 L559.65,154.66 L555.35,154.66Z" fill="#000"/>
<text transform="translate(548.90,144.90) scale(0.66,1)" font-family="'Liberation Sans', Arial, sans-serif" font-size="9.693" font-weight="bold" fill="#ff0000" stroke="#ff0000" stroke-width="0.15" text-anchor="start" letter-spacing="1.73" >6.87 Hz</text>
<line x1="612.40" y1="159.80" x2="612.40" y2="182.80" stroke="#000" stroke-width="1.1" stroke-linecap="butt"/>
<path d="M612.40,155.80 L614.55,163.66 L610.25,163.66Z" fill="#000"/>
<text transform="translate(601.40,155.90) scale(0.66,1)" font-family="'Liberation Sans', Arial, sans-serif" font-size="9.693" font-weight="bold" fill="#ff0000" stroke="#ff0000" stroke-width="0.15" text-anchor="start" letter-spacing="1.73" >3.56 Hz</text>
<rect x="425.40" y="11.10" width="85.30" height="95.40" fill="#fff" stroke="#222" stroke-width="1"/>
<line x1="425.90" y1="21.80" x2="450.80" y2="21.80" stroke="#000000" stroke-width="0.85" stroke-linecap="butt"/>
<rect x="436.57" y="19.97" width="3.66" height="3.66" fill="#000000"/>
<text transform="translate(461.80,26.10) scale(0.63,1)" font-family="'Liberation Sans', Arial, sans-serif" font-size="11.4" font-weight="bold" fill="#000" stroke="#000" stroke-width="0.22" text-anchor="start" letter-spacing="2.45" >Blank</text>
<line x1="425.90" y1="41.10" x2="450.80" y2="41.10" stroke="#ff0000" stroke-width="0.85" stroke-linecap="butt"/>
<circle cx="438.40" cy="41.10" r="1.99" fill="#ff0000"/>
<text transform="translate(458.70,45.40) scale(0.63,1)" font-family="'Liberation Sans', Arial, sans-serif" font-size="11.4" font-weight="bold" fill="#000" stroke="#000" stroke-width="0.22" text-anchor="start" letter-spacing="1.78" >9x10</text>
<text transform="translate(479.64,40.04) scale(0.8190000000000001,1)" font-family="'Liberation Sans', Arial, sans-serif" font-size="6.84" font-weight="bold" fill="#000" stroke="#000" stroke-width="0.22" text-anchor="start" letter-spacing="1.9" >-6</text>
<text transform="translate(489.49,45.40) scale(0.8290508048717679,1)" font-family="'Liberation Sans', Arial, sans-serif" font-size="11.4" font-weight="bold" fill="#000" stroke="#000" stroke-width="0.22" text-anchor="start" letter-spacing="0" >M</text>
<line x1="425.90" y1="60.10" x2="450.80" y2="60.10" stroke="#0000ff" stroke-width="0.85" stroke-linecap="butt"/>
<path d="M438.40,57.68 L440.70,61.92 L436.10,61.92Z" fill="#0000ff"/>
<text transform="translate(458.90,64.40) scale(0.63,1)" font-family="'Liberation Sans', Arial, sans-serif" font-size="11.4" font-weight="bold" fill="#000" stroke="#000" stroke-width="0.22" text-anchor="start" letter-spacing="1.83" >13x10</text>
<text transform="translate(485.09,59.04) scale(0.8190000000000001,1)" font-family="'Liberation Sans', Arial, sans-serif" font-size="6.84" font-weight="bold" fill="#000" stroke="#000" stroke-width="0.22" text-anchor="start" letter-spacing="1.9" >-6</text>
<text transform="translate(494.94,64.40) scale(0.8290508048717679,1)" font-family="'Liberation Sans', Arial, sans-serif" font-size="11.4" font-weight="bold" fill="#000" stroke="#000" stroke-width="0.22" text-anchor="start" letter-spacing="0" >M</text>
<line x1="425.90" y1="79.50" x2="450.80" y2="79.50" stroke="#ff00ff" stroke-width="0.85" stroke-linecap="butt"/>
<path d="M438.40,81.92 L440.70,77.68 L436.10,77.68Z" fill="#ff00ff"/>
<text transform="translate(458.90,83.80) scale(0.63,1)" font-family="'Liberation Sans', Arial, sans-serif" font-size="11.4" font-weight="bold" fill="#000" stroke="#000" stroke-width="0.22" text-anchor="start" letter-spacing="1.83" >17x10</text>
<text transform="translate(485.09,78.44) scale(0.8190000000000001,1)" font-family="'Liberation Sans', Arial, sans-serif" font-size="6.84" font-weight="bold" fill="#000" stroke="#000" stroke-width="0.22" text-anchor="start" letter-spacing="1.9" >-6</text>
<text transform="translate(494.94,83.80) scale(0.8290508048717679,1)" font-family="'Liberation Sans', Arial, sans-serif" font-size="11.4" font-weight="bold" fill="#000" stroke="#000" stroke-width="0.22" text-anchor="start" letter-spacing="0" >M</text>
<line x1="425.90" y1="98.60" x2="450.80" y2="98.60" stroke="#008000" stroke-width="0.85" stroke-linecap="butt"/>
<path d="M438.40,96.18 L440.82,98.60 L438.40,101.02 L435.98,98.60Z" fill="#008000"/>
<text transform="translate(456.50,102.90) scale(0.63,1)" font-family="'Liberation Sans', Arial, sans-serif" font-size="11.4" font-weight="bold" fill="#000" stroke="#000" stroke-width="0.22" text-anchor="start" letter-spacing="1.83" >21x10</text>
<text transform="translate(482.69,97.54) scale(0.8190000000000001,1)" font-family="'Liberation Sans', Arial, sans-serif" font-size="6.84" font-weight="bold" fill="#000" stroke="#000" stroke-width="0.22" text-anchor="start" letter-spacing="1.9" >-6</text>
<text transform="translate(492.54,102.90) scale(0.8290508048717679,1)" font-family="'Liberation Sans', Arial, sans-serif" font-size="11.4" font-weight="bold" fill="#000" stroke="#000" stroke-width="0.22" text-anchor="start" letter-spacing="0" >M</text>
<text transform="translate(380.20,199.00) rotate(-90) scale(0.6637282862328217,1)" font-family="'Liberation Serif', 'Times New Roman', serif" font-size="19" font-weight="bold" fill="#000" stroke="#000" stroke-width="0.3" text-anchor="start" letter-spacing="0" >-</text>
<text transform="translate(380.20,192.70) rotate(-90) scale(0.7495900679316,1)" font-family="'Liberation Serif', 'Times New Roman', serif" font-size="19" font-weight="bold" fill="#000" stroke="#000" stroke-width="0.3" text-anchor="start" letter-spacing="0" >Z</text>
<text transform="translate(384.60,179.20) rotate(-90) scale(0.72,1)" font-family="'Liberation Serif', 'Times New Roman', serif" font-size="11.5" font-weight="bold" fill="#000" stroke="#000" stroke-width="0.3" text-anchor="start" letter-spacing="3.3" >imag</text>
<text transform="translate(380.20,152.70) rotate(-90) scale(0.5272727272727231,1)" font-family="'Liberation Serif', 'Times New Roman', serif" font-size="22" font-weight="bold" fill="#000" stroke="#000" stroke-width="0.3" text-anchor="start" letter-spacing="0" >,</text>
<text transform="translate(380.20,147.60) rotate(-90) scale(0.65,1)" font-family="'Liberation Serif', 'Times New Roman', serif" font-size="19" font-weight="bold" fill="#000" stroke="#000" stroke-width="0.3" text-anchor="start" letter-spacing="4.59" >ohm</text>
<text transform="translate(380.20,107.80) rotate(-90) scale(0.65,1)" font-family="'Liberation Serif', 'Times New Roman', serif" font-size="19" font-weight="bold" fill="#000" stroke="#000" stroke-width="0.3" text-anchor="start" letter-spacing="6.82" >cm</text>
<text transform="translate(372.00,84.40) rotate(-90) scale(1.0105263157894762,1)" font-family="'Liberation Serif', 'Times New Roman', serif" font-size="9.5" font-weight="bold" fill="#000" stroke="#000" stroke-width="0.3" text-anchor="start" letter-spacing="0" >2</text>
<text transform="translate(504.20,312.60) scale(0.745306696114847,1)" font-family="'Liberation Serif', 'Times New Roman', serif" font-size="17.5" font-weight="bold" fill="#000" stroke="#000" stroke-width="0.3" text-anchor="start" letter-spacing="0" >Z</text>
<text transform="translate(515.40,316.40) scale(0.68,1)" font-family="'Liberation Serif', 'Times New Roman', serif" font-size="17.5" font-weight="bold" fill="#000" stroke="#000" stroke-width="0.3" text-anchor="start" letter-spacing="3.14" >real</text>
<text transform="translate(541.90,312.60) scale(0.5600000000000136,1)" font-family="'Liberation Serif', 'Times New Roman', serif" font-size="20" font-weight="bold" fill="#000" stroke="#000" stroke-width="0.3" text-anchor="start" letter-spacing="0" >,</text>
<text transform="translate(546.40,312.60) scale(0.66,1)" font-family="'Liberation Serif', 'Times New Roman', serif" font-size="17.5" font-weight="bold" fill="#000" stroke="#000" stroke-width="0.3" text-anchor="start" letter-spacing="4.38" >ohm</text>
<text transform="translate(581.50,312.60) scale(0.66,1)" font-family="'Liberation Serif', 'Times New Roman', serif" font-size="17.5" font-weight="bold" fill="#000" stroke="#000" stroke-width="0.3" text-anchor="start" letter-spacing="2.96" >cm</text>
<text transform="translate(602.30,307.60) scale(0.6971428571428597,1)" font-family="'Liberation Serif', 'Times New Roman', serif" font-size="17.5" font-weight="bold" fill="#000" stroke="#000" stroke-width="0.3" text-anchor="start" letter-spacing="0" >2</text>
<text transform="translate(527.50,341.80) scale(0.83,1)" font-family="'Liberation Serif', 'Times New Roman', serif" font-size="21" font-weight="bold" fill="#000" stroke="#000" stroke-width="0.3" text-anchor="start" letter-spacing="0" >P2</text>
</svg>
</body></html>
